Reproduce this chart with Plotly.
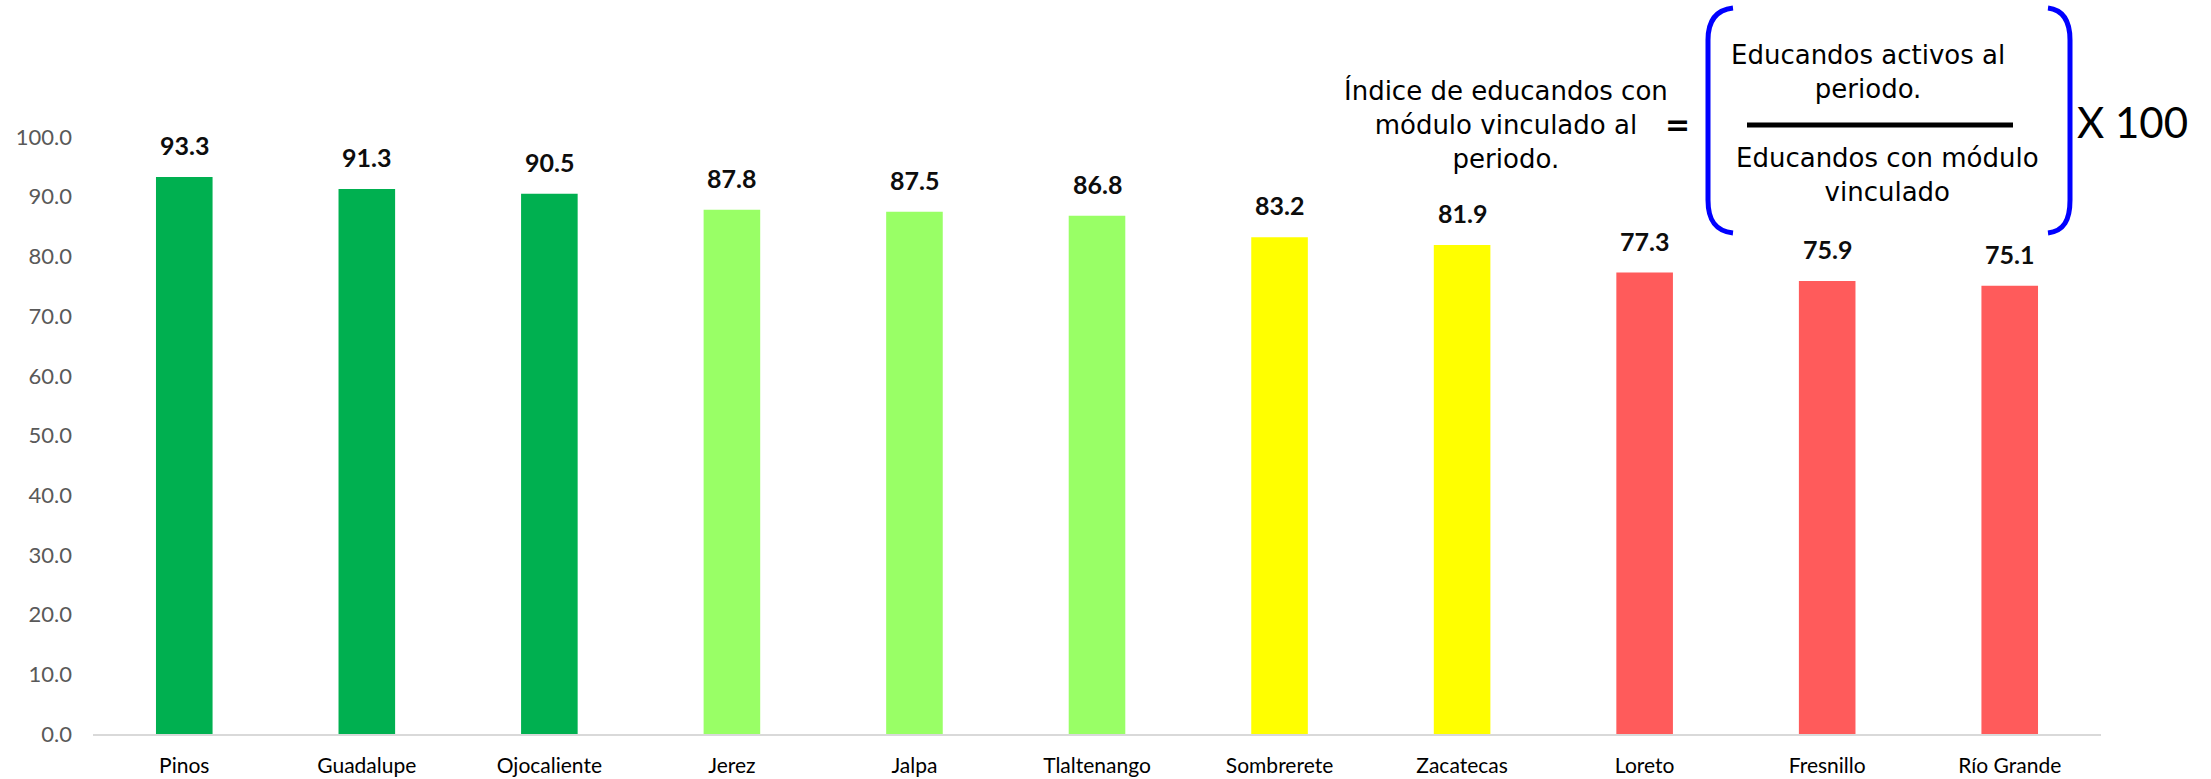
"""Índice de educandos con módulo vinculado al periodo, por coordinación."""

import plotly.graph_objects as go

categories = ["Pinos", "Guadalupe", "Ojocaliente", "Jerez", "Jalpa", "Tlaltenango",
              "Sombrerete", "Zacatecas", "Loreto", "Fresnillo", "Río Grande"]
values = [93.3, 91.3, 90.5, 87.8, 87.5, 86.8, 83.2, 81.9, 77.3, 75.9, 75.1]
bar_colors = ["#00B050", "#00B050", "#00B050", "#99FF66", "#99FF66", "#99FF66",
              "#FFFF00", "#FFFF00", "#FF5B5B", "#FF5B5B", "#FF5B5B"]
y_ticks = [0, 10, 20, 30, 40, 50, 60, 70, 80, 90, 100]

W, H = 2211, 779
ML, MR, MT, MB = 93, 110, 137, 45
PW, PH = W - ML - MR, H - MT - MB


def px(x):
    return (x - ML) / PW


def py(y):
    return (H - MB - y) / PH


fig = go.Figure(go.Bar(
    x=categories, y=values,
    marker=dict(color=bar_colors, line=dict(width=0)),
    hoverinfo="x+y",
))

# data labels above the bars
for c, v in zip(categories, values):
    fig.add_annotation(
        x=c, y=v, text=f"<b>{v:.1f}</b>", showarrow=False,
        yanchor="bottom", yshift=15,
        font=dict(family="Lato", size=25, color="#0D0D0D"),
    )

# formula box
txt_font = dict(family="DejaVu Sans", size=26, color="#000000")
fig.add_annotation(
    xref="paper", yref="paper", x=px(1506), y=py(124),
    text="Índice de educandos con<br>módulo vinculado al<br>periodo.",
    showarrow=False, align="center", xanchor="center", yanchor="middle", font=txt_font,
)
fig.add_annotation(
    xref="paper", yref="paper", x=px(1677), y=py(125), text="<b>=</b>",
    showarrow=False, xanchor="center", yanchor="middle",
    font=dict(family="DejaVu Sans", size=30, color="#000000"),
)
fig.add_annotation(
    xref="paper", yref="paper", x=px(1868), y=py(72),
    text="Educandos activos al<br>periodo.",
    showarrow=False, align="center", xanchor="center", yanchor="middle", font=txt_font,
)
fig.add_annotation(
    xref="paper", yref="paper", x=px(1887), y=py(175),
    text="Educandos con módulo<br>vinculado",
    showarrow=False, align="center", xanchor="center", yanchor="middle", font=txt_font,
)
fig.add_annotation(
    xref="paper", yref="paper", x=px(2132), y=py(122), text="X 100",
    showarrow=False, xanchor="center", yanchor="middle",
    font=dict(family="Lato", size=42, color="#000000"),
)

blue = dict(color="#0000FF", width=5)
left_paren = (f"M {px(1733)},{py(8)} C {px(1715)},{py(10)} {px(1708)},{py(22)} {px(1708)},{py(40)} "
              f"L {px(1708)},{py(200)} C {px(1708)},{py(220)} {px(1715)},{py(231)} {px(1733)},{py(233)}")
right_paren = (f"M {px(2048)},{py(8)} C {px(2064)},{py(10)} {px(2070)},{py(22)} {px(2070)},{py(40)} "
               f"L {px(2070)},{py(200)} C {px(2070)},{py(220)} {px(2064)},{py(231)} {px(2048)},{py(233)}")
fig.add_shape(type="path", xref="paper", yref="paper", path=left_paren, line=blue)
fig.add_shape(type="path", xref="paper", yref="paper", path=right_paren, line=blue)
fig.add_shape(type="line", xref="paper", yref="paper",
              x0=px(1747), x1=px(2013), y0=py(125), y1=py(125),
              line=dict(color="#000000", width=5))

fig.update_layout(
    width=W, height=H,
    margin=dict(l=ML, r=MR, t=MT, b=MB, autoexpand=False),
    paper_bgcolor="white", plot_bgcolor="white",
    bargap=0.69, showlegend=False,
    font=dict(family="Lato"),
)
fig.update_xaxes(
    showline=True, linecolor="#D9D9D9", linewidth=2,
    showgrid=False, ticks="", ticklabelstandoff=12,
    tickfont=dict(family="Lato", size=21, color="#000000"),
)
fig.update_yaxes(
    range=[0, 100], tickvals=y_ticks, tickformat=".1f",
    showline=False, showgrid=False, zeroline=False, ticks="",
    ticklabelstandoff=20,
    tickfont=dict(family="Lato", size=22, color="#595959"),
)

# page body has a default 8px margin; drop it so the figure sits at the origin
fig.write_html("out.html", config={"displayModeBar": False},
               post_script="document.body.style.margin='0';")
